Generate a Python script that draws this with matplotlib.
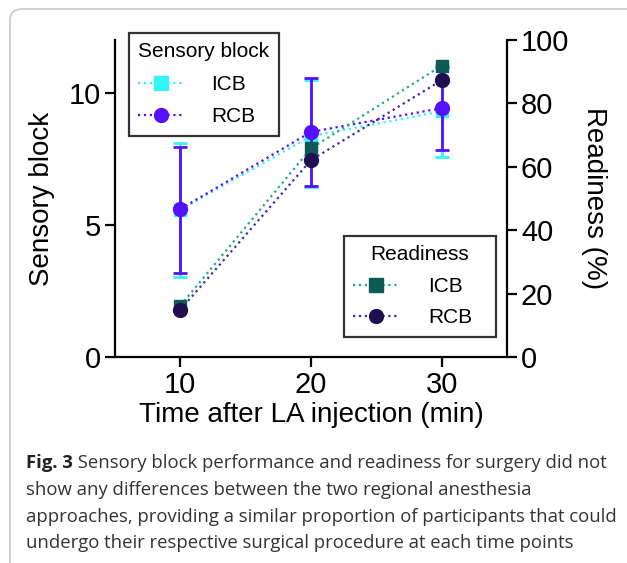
import matplotlib
matplotlib.use("Agg")
import matplotlib.pyplot as plt
from matplotlib.lines import Line2D
from matplotlib.patches import FancyBboxPatch

plt.rcParams['font.family'] = ['Liberation Sans', 'DejaVu Sans']

times = [10, 20, 30]
sens_icb = [5.57, 8.36, 9.30]
sens_icb_lo = [3.03, 6.42, 7.56]
sens_icb_hi = [8.09, 10.50, 11.05]
sens_rcb = [5.60, 8.52, 9.42]
sens_rcb_lo = [3.19, 6.46, 7.83]
sens_rcb_hi = [7.96, 10.55, 10.98]
ready_icb = [16.2, 65.8, 91.9]
ready_rcb = [14.9, 62.1, 87.3]

c_icb = '#33F5F5'
c_rcb = '#5511FF'
c_ricb_m = '#0E5A55'
c_ricb_l = '#1FA890'
c_rrcb_m = '#1E1050'
c_rrcb_l = '#3C2AB0'

W, H = 627, 563
fig = plt.figure(figsize=(W/100, H/100), dpi=100)
ax = fig.add_axes([115/W, 1-357/H, (507-115)/W, (357-40)/H])
ax2 = ax.twinx()

def err(v, lo, hi):
    return [[a-b for a, b in zip(v, lo)], [b-a for a, b in zip(v, hi)]]

ax.errorbar(times, sens_icb, yerr=err(sens_icb, sens_icb_lo, sens_icb_hi), color=c_icb,
            ls=':', lw=1.6, marker='s', ms=9, capsize=5, capthick=2, elinewidth=2, zorder=2)
ax.errorbar(times, sens_rcb, yerr=err(sens_rcb, sens_rcb_lo, sens_rcb_hi), color=c_rcb,
            ls=':', lw=1.6, marker='o', ms=10, capsize=5, capthick=2, elinewidth=2, zorder=3)
ax2.plot(times, ready_icb, ls=':', lw=1.6, color=c_ricb_l, marker='s', ms=9,
         mfc=c_ricb_m, mec=c_ricb_m, zorder=3)
ax2.plot(times, ready_rcb, ls=':', lw=1.6, color=c_rrcb_l, marker='o', ms=10,
         mfc=c_rrcb_m, mec=c_rrcb_m, zorder=3)

ax.set_xlim(5, 35)
ax.set_ylim(0, 12)
ax2.set_ylim(0, 100)
ax.set_xticks(times)
ax.set_yticks([0, 5, 10])
ax2.set_yticks([0, 20, 40, 60, 80, 100])
for a in (ax, ax2):
    a.spines['top'].set_visible(False)
    for s in a.spines.values():
        s.set_linewidth(1.6)
    a.tick_params(width=1.6, length=7, labelsize=21, pad=3)
ax.spines['right'].set_visible(False)
ax2.spines['left'].set_visible(False)
ax2.spines['bottom'].set_visible(False)
ax.set_xlabel('Time after LA injection (min)', fontsize=20, labelpad=2)
ax.set_ylabel('Sensory block', fontsize=20, labelpad=10)
ax2.set_ylabel('Readiness (%)', fontsize=20, rotation=270, labelpad=27)

h1 = [Line2D([], [], ls=':', lw=1.6, color=c_icb, marker='s', ms=10),
      Line2D([], [], ls=':', lw=1.6, color=c_rcb, marker='o', ms=10)]
leg1 = ax2.legend(h1, ['ICB', 'RCB'], title='Sensory block', loc='upper left',
                  bbox_to_anchor=(129/W, 1-33/H), bbox_transform=fig.transFigure,
                  fontsize=15, title_fontsize=15, frameon=True, fancybox=False,
                  edgecolor='black', handlelength=2.2, handletextpad=1.3,
                  borderpad=0.45, labelspacing=0.65, borderaxespad=0)
leg1.get_frame().set_linewidth(1.6)
leg1._legend_box.align = 'left'
ax2.add_artist(leg1)
h2 = [Line2D([], [], ls=':', lw=1.6, color=c_ricb_l, marker='s', ms=10, mfc=c_ricb_m, mec=c_ricb_m),
      Line2D([], [], ls=':', lw=1.6, color=c_rrcb_l, marker='o', ms=10, mfc=c_rrcb_m, mec=c_rrcb_m)]
leg2 = ax2.legend(h2, ['ICB', 'RCB'], title='Readiness', loc='upper left',
                  bbox_to_anchor=(344/W, 1-236/H, 152/W, 0), bbox_transform=fig.transFigure,
                  mode='expand',
                  fontsize=15, title_fontsize=15, frameon=True, fancybox=False,
                  edgecolor='black', handlelength=2.2, handletextpad=1.4,
                  borderpad=0.45, labelspacing=0.6, borderaxespad=0)
leg2.get_frame().set_linewidth(1.6)

frame = FancyBboxPatch((10/W, -0.2), 1.2, 1.2-9/H, boxstyle='round,pad=0,rounding_size=0.02',
                       transform=fig.transFigure, fill=False, edgecolor='#c8c8c8', lw=1.2,
                       clip_on=False)
fig.patches.append(frame)

cap_font = ['Open Sans', 'DejaVu Sans']
cfs = 13.3
lines = ['Sensory block performance and readiness for surgery did not',
         'show any differences between the two regional anesthesia',
         'approaches, providing a similar proportion of participants that could',
         'undergo their respective surgical procedure at each time points']
ys = [463, 490, 517, 543]
t0 = fig.text(26/W, 1-ys[0]/H, 'Fig. 3', fontsize=cfs, fontweight='bold', family=cap_font,
              va='center', ha='left', color='#222222')
ax.annotate(' ' + lines[0], xy=(1, 0.5), xycoords=t0, va='center', ha='left', fontsize=cfs,
            family=cap_font, color='#333333', annotation_clip=False)
for ln, y in zip(lines[1:], ys[1:]):
    fig.text(26/W, 1-y/H, ln, fontsize=cfs, family=cap_font, va='center', ha='left',
             color='#333333')

fig.savefig('out.png', dpi=100)
